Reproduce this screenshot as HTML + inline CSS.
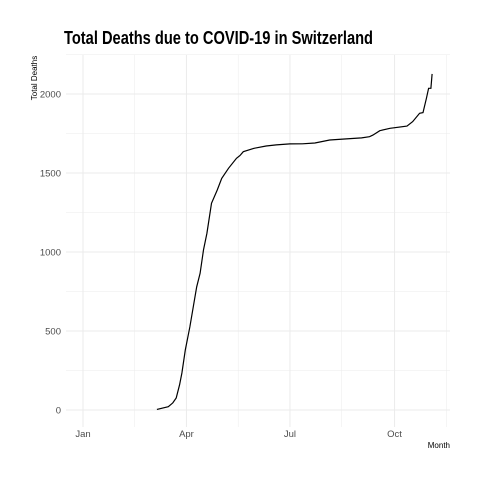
<!DOCTYPE html>
<html><head><meta charset="utf-8"><style>
html,body{margin:0;padding:0;background:#fff;}
svg{display:block;font-family:"Liberation Sans",sans-serif;}
</style></head><body>
<svg id="chart" width="480" height="480" viewBox="0 0 480 480">
<rect x="0" y="0" width="480" height="480" fill="#fff"/>
<g id="grid"></g>
<g id="ticks"></g>
<path id="line" fill="none" stroke="#000" stroke-width="1.2"/>
<text x="64" y="44" font-size="18" font-weight="bold" textLength="309" lengthAdjust="spacingAndGlyphs">Total Deaths due to COVID-19 in Switzerland</text>
<text transform="translate(37,78) rotate(-90)" font-size="8" text-anchor="middle">Total Deaths</text>
<text x="450" y="448" font-size="8" text-anchor="end">Month</text>
</svg>
<script>
const days=[65,75,79,82,85,87,90,94,97,100,103,106,109,113,118,122,128,135,138,141,150,161,170,182,193,204,217,230,245,252,255,261,270,285,290,296,299,302,304,306,307];
const deaths=[4,21,45,76,160,234,380,527,654,780,865,1013,1118,1308,1392,1466,1530,1593,1610,1635,1656,1671,1678,1684,1685,1690,1709,1715,1722,1730,1740,1768,1783,1797,1825,1878,1882,1972,2036,2036,2127];
const yTicks=[0,500,1000,1500,2000];
const xTickDays=[0,91,182,274];
const xTickLabels=["Jan","Apr","Jul","Oct"];
const X=d=>83+d*1.137;
const Y=v=>410-v*0.158;
const ns="http://www.w3.org/2000/svg";
const grid=document.getElementById('grid'),ticks=document.getElementById('ticks');
function ln(x1,y1,x2,y2,w,name){const l=document.createElementNS(ns,'line');
l.setAttribute('x1',x1);l.setAttribute('y1',y1);l.setAttribute('x2',x2);l.setAttribute('y2',y2);
l.setAttribute('stroke','#ebebeb');l.setAttribute('stroke-width',w);


grid.appendChild(l);}
const L=66,R=450,T=55,B=427;
for(let i=0;i<yTicks.length;i++){ln(L,Y(yTicks[i]),R,Y(yTicks[i]),1,'y-gridline');ln(L,Y(yTicks[i]+250),R,Y(yTicks[i]+250),0.5,'y-minor-gridline');
const t=document.createElementNS(ns,'text');t.setAttribute('x',61);t.setAttribute('y',Y(yTicks[i])+3.5);t.setAttribute('text-anchor','end');t.setAttribute('font-size','9.5');t.setAttribute('fill','#4d4d4d');t.textContent=yTicks[i];


ticks.appendChild(t);}
for(let i=0;i<xTickDays.length;i++){ln(X(xTickDays[i]),T,X(xTickDays[i]),B,1,'x-gridline');
ln(X(xTickDays[i]+45.5),T,X(xTickDays[i]+45.5),B,0.5,'x-minor-gridline');
const t=document.createElementNS(ns,'text');t.setAttribute('x',X(xTickDays[i]));t.setAttribute('y',437);t.setAttribute('text-anchor','middle');t.setAttribute('font-size','9.5');t.setAttribute('fill','#4d4d4d');t.textContent=xTickLabels[i];


ticks.appendChild(t);}
document.getElementById('line').setAttribute('d',days.map((d,i)=>(i?'L':'M')+X(d).toFixed(1)+','+Y(deaths[i]).toFixed(1)).join(''));
</script>
</body></html>
